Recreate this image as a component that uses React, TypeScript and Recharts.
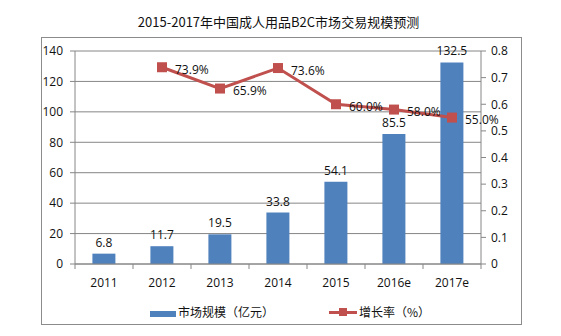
import React from 'react';
import { ComposedChart, Bar, Line, XAxis, YAxis, CartesianGrid, LabelList } from 'recharts';

const categories = ['2011', '2012', '2013', '2014', '2015', '2016e', '2017e'];
const marketSize = [6.8, 11.7, 19.5, 33.8, 54.1, 85.5, 132.5];
const growthRate: (number | null)[] = [null, 0.739, 0.659, 0.736, 0.6, 0.58, 0.55];
const leftTicks = [0, 20, 40, 60, 80, 100, 120, 140];
const rightTicks = [0, 0.1, 0.2, 0.3, 0.4, 0.5, 0.6, 0.7, 0.8];

const TITLE = '2015-2017年中国成人用品B2C市场交易规模预测';
const BAR_NAME = '市场规模（亿元）';
const LINE_NAME = '增长率（%）';

const data = categories.map((c, i) => ({ name: c, size: marketSize[i], rate: growthRate[i] }));

const W = 561;
const H = 336;
const MARGIN = { top: 51, right: 50, left: 45, bottom: 42 };
const Y_W = 30;
const PLOT_W = W - MARGIN.left - MARGIN.right - 2 * Y_W;
const BAND = PLOT_W / categories.length;

const BLUE = '#4F81BD';
const RED = '#C0504D';
const AXIS = '#868686';
const FONT = '"Open Sans", "Noto Sans", sans-serif';
const CJK = '"Noto Sans CJK SC", "Noto Sans", sans-serif';

const XTick = (props: any) => {
  const { x, y, payload, index } = props;
  const half = BAND / 2;
  return (
    <g>
      <line x1={x - half} x2={x - half} y1={y} y2={y + 5} stroke={AXIS} />
      {index === categories.length - 1 && (
        <line x1={x + half} x2={x + half} y1={y} y2={y + 5} stroke={AXIS} />
      )}
      <text x={x} y={y + 18} textAnchor="middle" dominantBaseline="central" fontSize={12} fontFamily={FONT} fill="#111">
        {payload.value}
      </text>
    </g>
  );
};

const SquareDot = (props: any) => {
  const { cx, cy, index } = props;
  if (cx == null || cy == null || props.value == null) return <g key={`d${index}`} />;
  return <rect key={`d${index}`} x={cx - 5} y={cy - 5} width={10} height={10} fill={RED} />;
};

const RateLabel = (props: any) => {
  const { x, y, value, index } = props;
  if (value == null) return <g key={`l${index}`} />;
  return (
    <text key={`l${index}`} x={x + 13} y={y + 2} dominantBaseline="central" fontSize={12} fontFamily={FONT} fill="#111">
      {(value * 100).toFixed(1) + '%'}
    </text>
  );
};

export default function App() {
  return (
    <div style={{ position: 'absolute', left: 0, top: 0, width: W, height: H, background: '#fff' }}>
      <div
        style={{
          position: 'absolute',
          left: 41,
          top: 37,
          width: 479,
          height: 286,
          border: '1px solid #8c8c8c',
        }}
      />
      <div
        style={{
          position: 'absolute',
          left: 0,
          top: 12,
          width: 557,
          textAlign: 'center',
          fontFamily: CJK,
          fontSize: 13,
          lineHeight: '20px',
          color: '#111',
        }}
      >
        {TITLE}
      </div>
      <div style={{ position: 'absolute', left: 0, top: 0 }}>
        <ComposedChart width={W} height={H} data={data} margin={MARGIN} barCategoryGap="30%">
          <CartesianGrid yAxisId="left" vertical={false} stroke={AXIS} strokeWidth={1} />
          <XAxis
            dataKey="name"
            interval={0}
            tickLine={false}
            tickSize={0}
            tickMargin={0}
            height={30}
            axisLine={{ stroke: AXIS }}
            tick={<XTick />}
          />
          <YAxis
            yAxisId="left"
            width={Y_W}
            domain={[0, 140]}
            ticks={leftTicks}
            interval={0}
            tickSize={5}
            tickMargin={7}
            axisLine={{ stroke: AXIS }}
            tickLine={{ stroke: AXIS }}
            tick={{ fontSize: 12, fontFamily: FONT, fill: '#111' }}
          />
          <YAxis
            yAxisId="right"
            orientation="right"
            width={Y_W}
            domain={[0, 0.8]}
            ticks={rightTicks}
            interval={0}
            tickSize={5}
            tickMargin={5}
            axisLine={{ stroke: AXIS }}
            tickLine={{ stroke: AXIS }}
            tickFormatter={(v: number) => String(v)}
            tick={{ fontSize: 12, fontFamily: FONT, fill: '#111', textAnchor: 'start' }}
          />
          <Bar yAxisId="left" dataKey="size" fill={BLUE} isAnimationActive={false}>
            <LabelList dataKey="size" position="top" offset={7} fontSize={12} fontFamily={FONT} fill="#111" />
          </Bar>
          <Line
            yAxisId="right"
            dataKey="rate"
            stroke={RED}
            strokeWidth={3}
            dot={<SquareDot />}
            activeDot={false}
            isAnimationActive={false}
          >
            <LabelList dataKey="rate" content={<RateLabel />} />
          </Line>
        </ComposedChart>
      </div>
      <div style={{ position: 'absolute', left: 150, top: 311, width: 26, height: 6, background: BLUE }} />
      <div
        style={{
          position: 'absolute',
          left: 178,
          top: 304,
          fontFamily: CJK,
          fontSize: 12,
          lineHeight: '16px',
          color: '#111',
          whiteSpace: 'nowrap',
        }}
      >
        {BAR_NAME}
      </div>
      <div style={{ position: 'absolute', left: 329, top: 311, width: 28, height: 3, background: RED }} />
      <div style={{ position: 'absolute', left: 339, top: 308, width: 8, height: 8, background: RED }} />
      <div
        style={{
          position: 'absolute',
          left: 359,
          top: 304,
          fontFamily: CJK,
          fontSize: 12,
          lineHeight: '16px',
          color: '#111',
          whiteSpace: 'nowrap',
        }}
      >
        {LINE_NAME}
      </div>
    </div>
  );
}
